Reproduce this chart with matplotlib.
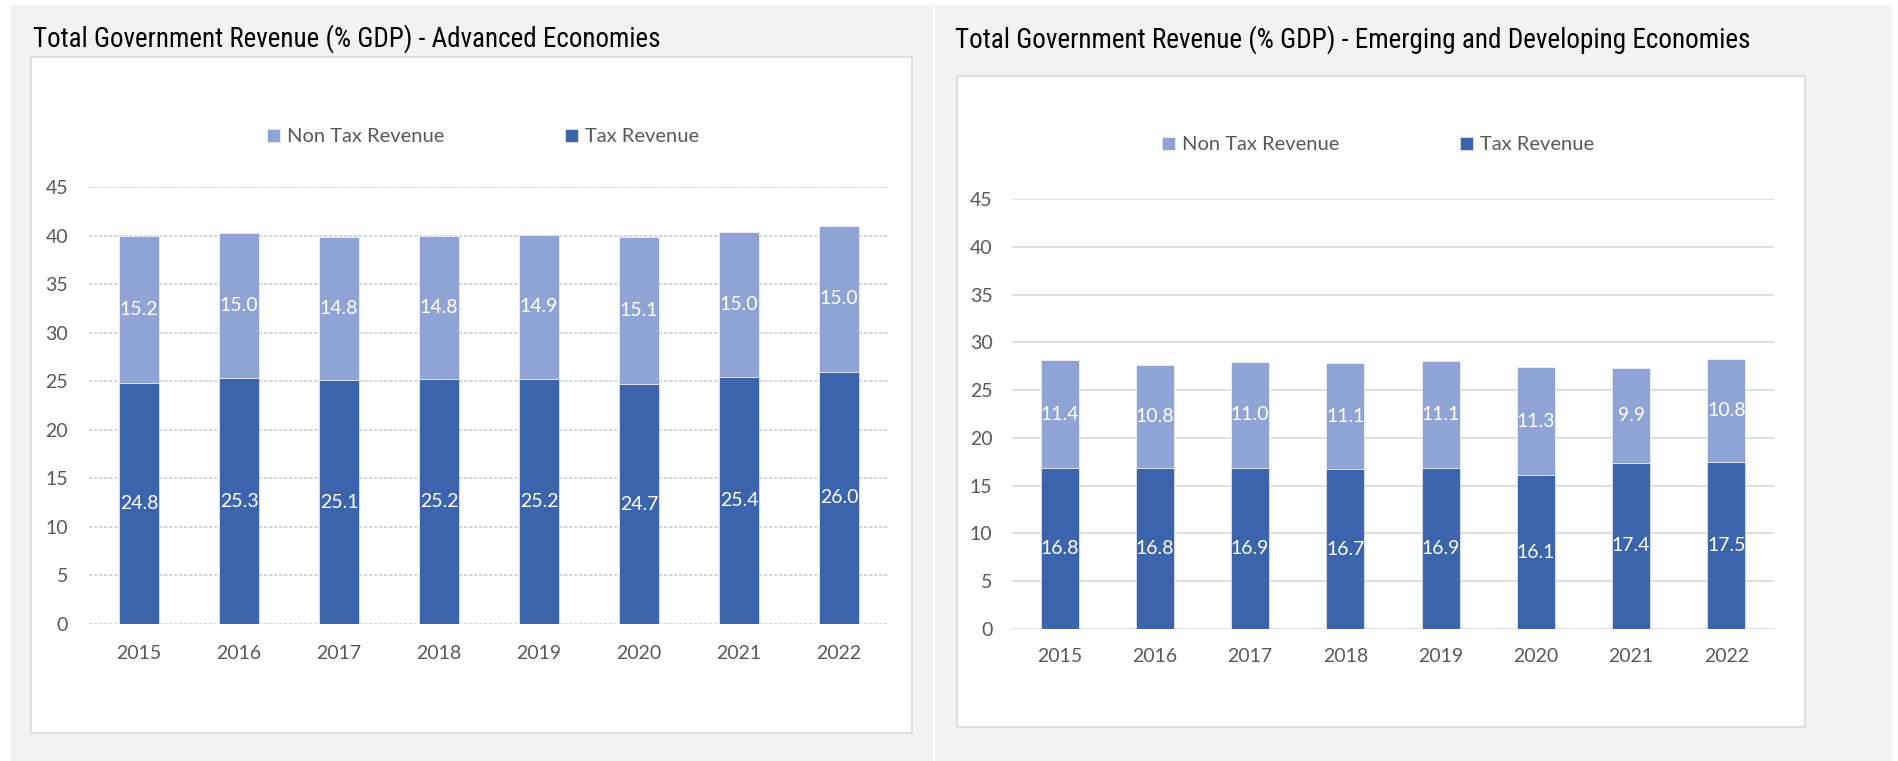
import matplotlib
matplotlib.use("Agg")
import matplotlib.pyplot as plt
from matplotlib import font_manager
from matplotlib.patches import Rectangle
import numpy as np

years = ["2015", "2016", "2017", "2018", "2019", "2020", "2021", "2022"]

adv_tax = [24.8, 25.3, 25.1, 25.2, 25.2, 24.7, 25.4, 26.0]
adv_non_tax = [15.2, 15.0, 14.8, 14.8, 14.9, 15.1, 15.0, 15.0]

emd_tax = [16.8, 16.8, 16.9, 16.7, 16.9, 16.1, 17.4, 17.5]
emd_non_tax = [11.4, 10.8, 11.0, 11.1, 11.1, 11.3, 9.9, 10.8]

DARK = "#3c64ad"
LIGHT = "#8fa3d5"
TICK_COLOR = "#595959"
LABEL_FONT = ["Lato", "DejaVu Sans"]

# narrow face for the titles, whichever is installed
installed = {f.name for f in font_manager.fontManager.ttflist}
narrow_faces = [f.name for f in font_manager.fontManager.ttflist
                if "Narrow" in f.name or "Condensed" in f.name or f.stretch in ("condensed", "semi-condensed")]
TITLE_FONT = [n for n in ["Liberation Sans Narrow", "DejaVu Sans Condensed", "Roboto Condensed",
                          "Open Sans Condensed"] if n in installed]
title_stretch = "normal"
if not TITLE_FONT:
    if narrow_faces:
        TITLE_FONT = [narrow_faces[0]]
    title_stretch = "condensed"
TITLE_FONT = TITLE_FONT + ["DejaVu Sans"]

W, H = 1899, 761
fig = plt.figure(figsize=(W / 100, H / 100), dpi=100)
fig.patch.set_facecolor("white")


def px_rect(x0, y0, x1, y1, **kw):
    # rectangle given in pixel coords from the top-left corner
    r = Rectangle((x0 / W, 1 - y1 / H), (x1 - x0) / W, (y1 - y0) / H,
                  transform=fig.transFigure, **kw)
    fig.patches.append(r)


def px_axes(x0, y_top, x1, y_bottom):
    return fig.add_axes([x0 / W, 1 - y_bottom / H, (x1 - x0) / W, (y_bottom - y_top) / H])


# panel backgrounds and white chart boxes
px_rect(11, 5, 933, 761, facecolor="#f2f2f2", edgecolor="none", zorder=-10)
px_rect(935, 5, 1892, 761, facecolor="#f2f2f2", edgecolor="none", zorder=-10)
px_rect(31, 57, 912, 733, facecolor="white", edgecolor="#d9d9d9", linewidth=1.2, zorder=-9)
px_rect(957, 76, 1805, 727, facecolor="white", edgecolor="#d9d9d9", linewidth=1.2, zorder=-9)


def title(x, y, s, target_w):
    t = fig.text(x / W, 1 - y / H, s, family=TITLE_FONT, stretch=title_stretch,
                 fontsize=20, color="black", ha="left", va="baseline")
    # fit the title to the width of the chart header
    r = fig.canvas.get_renderer()
    w = t.get_window_extent(r).width
    t.set_fontsize(min(22, 20 * target_w / w))
    return t


title(33, 47, "Total Government Revenue (% GDP) - Advanced Economies", 627)
title(955, 48, "Total Government Revenue (% GDP) - Emerging and Developing Economies", 795)


def draw_panel(ax, tax, non_tax, grid_style, grid_color, pad, legend_xy):
    x = np.arange(len(years))
    b1 = ax.bar(x, tax, width=0.4, color=DARK, edgecolor="white", linewidth=0.4,
                label="Tax Revenue", zorder=3)
    b2 = ax.bar(x, non_tax, width=0.4, bottom=tax, color=LIGHT, edgecolor="white",
                linewidth=0.4, label="Non Tax Revenue", zorder=3)
    for bars in (b1, b2):
        ax.bar_label(bars, labels=[f"{v:.1f}" for v in bars.datavalues],
                     label_type="center", color="white", fontsize=14, family=LABEL_FONT)

    ax.set_xlim(-0.5, len(years) - 0.5)
    ax.set_ylim(0, 45)
    ax.set_yticks(range(0, 46, 5))
    ax.set_xticks(x)
    ax.set_xticklabels(years)
    ax.yaxis.grid(True, color=grid_color, linestyle=grid_style, linewidth=1.2, zorder=0)
    ax.set_axisbelow(True)
    for s in ax.spines.values():
        s.set_visible(False)
    ax.tick_params(length=0, colors=TICK_COLOR, labelsize=14, pad=pad)
    for lab in ax.get_xticklabels() + ax.get_yticklabels():
        lab.set_family(LABEL_FONT)
    ax.patch.set_alpha(0)

    leg = ax.legend([b2, b1], ["Non Tax Revenue", "Tax Revenue"], loc="center",
                    bbox_to_anchor=(legend_xy[0] / W, 1 - legend_xy[1] / H),
                    bbox_transform=fig.transFigure, ncol=2, frameon=False,
                    handlelength=0.65, handleheight=0.65, handletextpad=0.35,
                    columnspacing=6.0, prop={"family": LABEL_FONT, "size": 14.5})
    for t in leg.get_texts():
        t.set_color(TICK_COLOR)


ax1 = px_axes(89, 187, 889, 624)
draw_panel(ax1, adv_tax, adv_non_tax, (0, (2, 1)), "#cfcfcf", 15, (483, 137))

ax2 = px_axes(1012, 199, 1774, 629)
draw_panel(ax2, emd_tax, emd_non_tax, "-", "#d9d9d9", 14, (1378, 145))

fig.savefig("out.png", dpi=100)
